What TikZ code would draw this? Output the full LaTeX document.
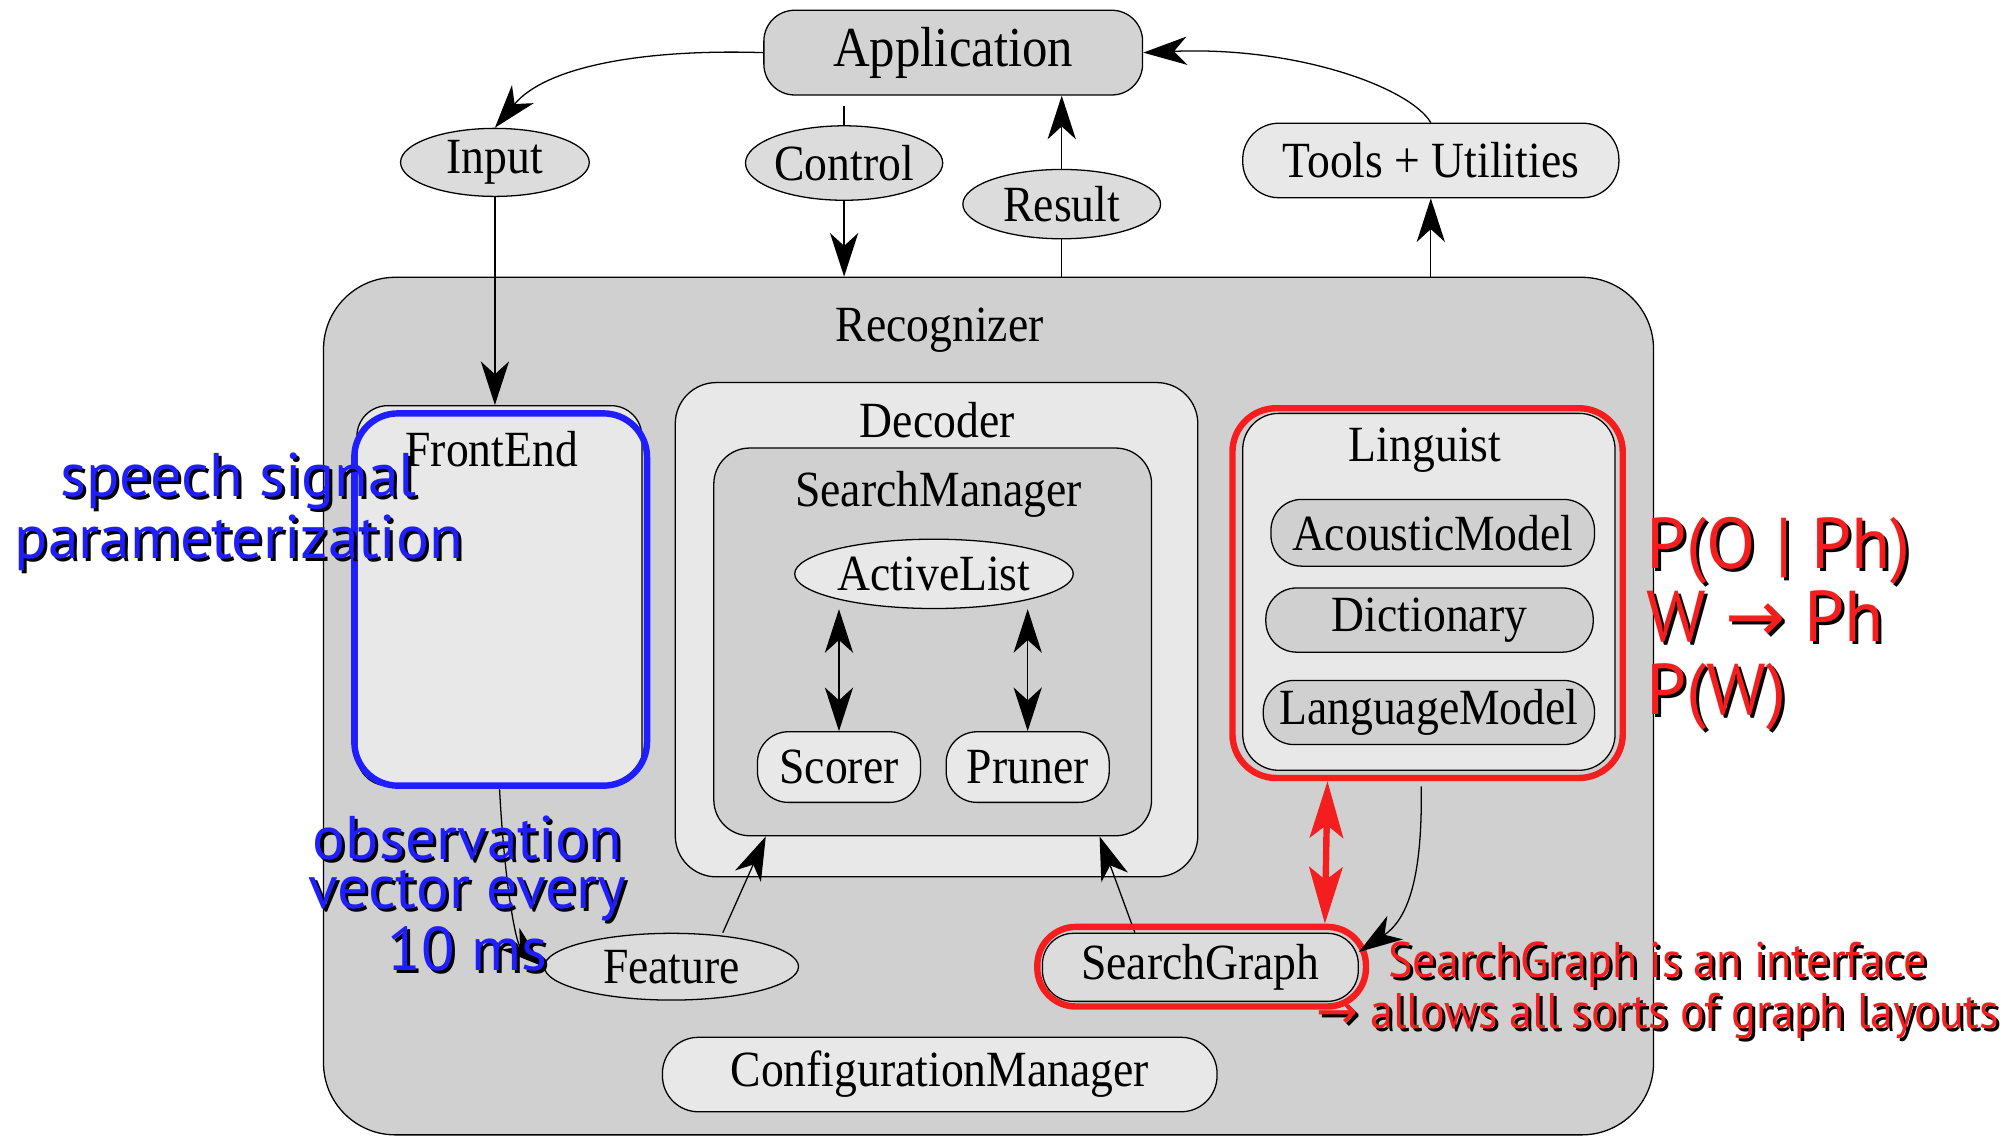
\documentclass[tikz,border=0pt]{standalone}
\usepackage{fontspec}
\setmainfont[FakeStretch=0.9]{Liberation Serif}
\newfontfamily\annotfont{PT Sans}
\newfontfamily\annotnarrow[FakeStretch=0.92]{PT Sans}
\newfontfamily\arrowfont{DejaVu Sans}
\usetikzlibrary{arrows.meta,shapes.geometric,calc}
\definecolor{gDark}{RGB}{208,208,208}
\definecolor{gMid}{RGB}{220,220,220}
\definecolor{gLight}{RGB}{232,232,232}
\definecolor{gApp}{RGB}{211,211,211}
\definecolor{annBlue}{RGB}{30,30,255}
\definecolor{annRed}{RGB}{245,30,30}
\newcommand{\shd}[2]{\makebox[0pt][l]{\hspace{1.2pt}\raisebox{-1.2pt}{\color{black}#2}}{\color{#1}#2}}
\begin{document}
\begin{tikzpicture}[x=0.5pt,y=-0.5pt,
  lbl/.style={font=\fontsize{19.75pt}{22pt}\selectfont, inner sep=0pt},
  ell/.style={draw, ellipse, inner sep=0pt, line width=0.5pt, lbl},
  pill/.style={draw, rectangle, rounded corners=12pt, inner sep=0pt, line width=0.5pt, lbl},
  cont/.style={draw, rectangle, rounded corners=15pt, inner sep=0pt, line width=0.5pt},
  anbox/.style={rectangle, line width=2.5pt, inner sep=0pt},
  arr/.style={-{Stealth[length=17pt,width=11pt,inset=5pt]}, line width=0.5pt},
  darr/.style={{Stealth[length=17pt,width=11pt,inset=5pt]}-{Stealth[length=17pt,width=11pt,inset=5pt]}, line width=0.5pt},
  redarr/.style={{Stealth[length=22pt,width=13pt,inset=5pt]}-{Stealth[length=22pt,width=13pt,inset=5pt]}, draw=annRed, fill=annRed, line width=2.5pt},
  annot/.style={font=\annotfont\fontsize{24pt}{19pt}\selectfont, inner sep=0pt, align=center},
]
\useasboundingbox (0,0) rectangle (1568,886);

% Recognizer container
\node[cont, fill=gDark, rounded corners=28pt, minimum width=518pt, minimum height=334pt] (rec) at (770,550) {};
\node[lbl] (recl) at (732,257) {Recognizer};

% FrontEnd
\node[cont, fill=gLight, rounded corners=12pt, minimum width=111pt, minimum height=148pt] (fe) at (389,464) {};
\node[lbl] (fel) at (383,350) {FrontEnd};

% Decoder
\node[cont, fill=gLight, rounded corners=16pt, minimum width=203.5pt, minimum height=192.5pt] (dec) at (729.5,490.5) {};
\node[lbl] (decl) at (730,327) {Decoder};
\node[cont, fill=gDark, rounded corners=14pt, minimum width=170.5pt, minimum height=151pt] (sm) at (726.5,500) {};
\node[lbl] (sml) at (731,385) {SearchManager};
\node[ell, fill=gLight, minimum width=108.5pt, minimum height=27pt] (al) at (727.5,447) {ActiveList};
\node[pill, fill=gLight, minimum width=63.5pt, minimum height=27.5pt] (scorer) at (653.5,597.5) {Scorer};
\node[pill, fill=gLight, minimum width=63.5pt, minimum height=27.5pt] (pruner) at (800.5,597.5) {Pruner};

% Linguist
\node[cont, fill=gLight, rounded corners=14pt, minimum width=145pt, minimum height=139pt] (ling) at (1113,461) {};
\node[lbl] (lingl) at (1110,351) {Linguist};
\node[pill, fill=gDark, minimum width=126pt, minimum height=26pt] (am) at (1116,415) {AcousticModel};
\node[pill, fill=gDark, minimum width=127.5pt, minimum height=25pt] (dict) at (1113.5,483) {Dictionary};
\node[pill, fill=gDark, minimum width=129pt, minimum height=25pt] (lm) at (1113,555) {LanguageModel};

% bottom nodes
\node[ell, fill=gMid, minimum width=99pt, minimum height=26pt] (feat) at (523,753) {Feature};
\node[pill, fill=gMid, minimum width=123pt, minimum height=26.5pt] (sg) at (935,753.5) {SearchGraph};
\node[pill, fill=gLight, rounded corners=14pt, minimum width=216pt, minimum height=29pt] (cm) at (732,837) {ConfigurationManager};

% top nodes
\node[pill, fill=gApp, minimum width=147.5pt, minimum height=33pt, font=\fontsize{22pt}{24pt}\selectfont] (app) at (742.5,41) {Application};
\node[ell, fill=gMid, minimum width=73.5pt, minimum height=26.5pt] (input) at (385.5,126.5) {Input};
\node[ell, fill=gMid, minimum width=73.5pt, minimum height=29pt] (control) at (657.5,127) {Control};
\node[ell, fill=gMid, minimum width=77pt, minimum height=27pt] (result) at (827,159) {Result};
\node[pill, fill=gLight, rounded corners=14pt, minimum width=146.5pt, minimum height=29pt] (tools) at (1114.5,125) {Tools + Utilities};

% connectors
\draw[arr] (app.west) .. controls (500,38) and (425,52) .. (input.north);
\draw[arr] (input.south) -- (input.south |- fe.north);
\draw[line width=0.5pt, shorten <=4pt] (control.north |- app.south) -- (control.north);
\draw[arr] (control.south) -- (control.south |- rec.north);
\draw[line width=0.5pt] (rec.north -| result.south) -- (result.south);
\draw[arr] (result.north) -- (result.north |- app.south);
\draw[arr] (tools.north) .. controls (1098,68) and (1010,36) .. (app.east);
\draw[arr] (tools.south |- rec.north) -- (tools.south);
\draw[darr] (scorer.north |- al.south) -- (scorer.north);
\draw[darr] (pruner.north |- al.south) -- (pruner.north);
\draw[arr] (fe.south) .. controls (393,690) and (402,735) .. (feat.west);
\draw[arr] ([xshift=20pt]feat.north) -- ([xshift=-65pt]sm.south);
\draw[arr] ([xshift=-25.5pt]sg.north) -- ([xshift=65pt]sm.south);

% annotation boxes
\node[anbox, draw=annBlue, rounded corners=17pt, minimum width=114pt, minimum height=145pt] (feann) at (390,467) {};
\node[anbox, draw=annRed, rounded corners=17pt, minimum width=152pt, minimum height=144pt] (lingann) at (1112,462) {};
\node[anbox, draw=annRed, rounded corners=15pt, minimum width=128pt, minimum height=31pt] (sgann) at (936,753) {};

\draw[arr, shorten <=2pt] ([xshift=-2.5pt]lingann.south) .. controls (1108,680) and (1098,715) .. ([yshift=6pt]sg.east);
\draw[redarr] ([xshift=-39pt]lingann.south) -- ([xshift=48pt]sgann.north);

% annotation texts
\node[annot] (speech) at (186,400) {\shd{annBlue}{speech signal}\\\shd{annBlue}{parameterization}};
\node[annot] (obs) at (364,697) {\shd{annBlue}{observation}\\\shd{annBlue}{vector every}\\\shd{annBlue}{10 ms}};
\node[annot, font=\annotfont\fontsize{28pt}{28.5pt}\selectfont, align=left, anchor=west] (prob) at (1282,487) {\shd{annRed}{P(O | Ph)}\\\shd{annRed}{W {\arrowfont →} Ph}\\\shd{annRed}{P(W)}};
\node[annot, font=\annotnarrow\fontsize{19.5pt}{18.5pt}\selectfont] (sgnote) at (1291,773) {\shd{annRed}{SearchGraph is an interface}\\\shd{annRed}{{\arrowfont →} allows all sorts of graph layouts}};
\end{tikzpicture}
\end{document}
